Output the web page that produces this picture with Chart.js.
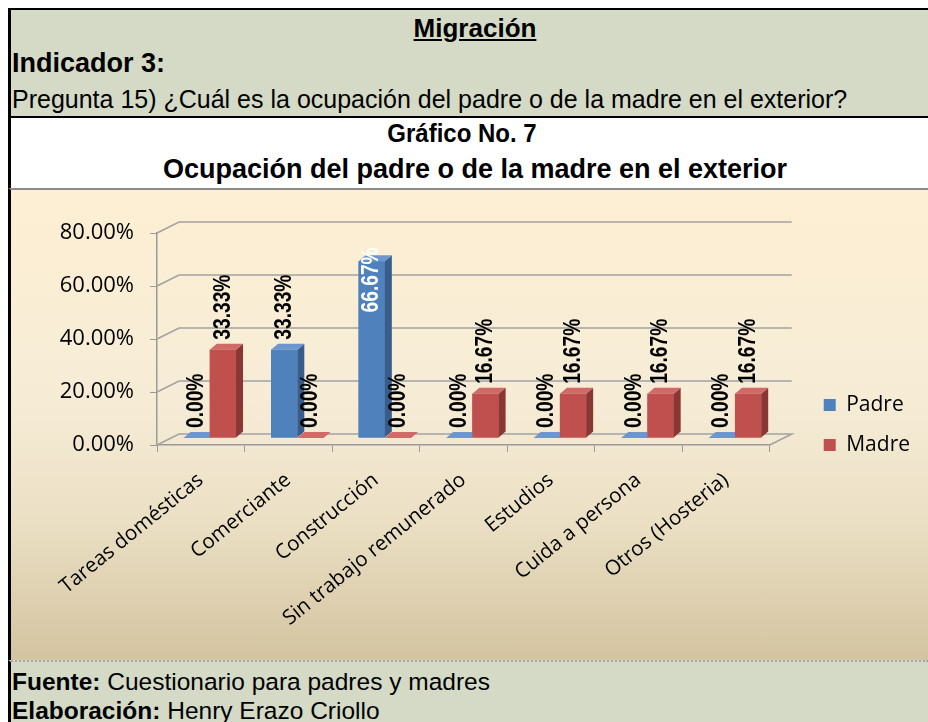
<!DOCTYPE html>
<html><head><meta charset="utf-8">
<script src="https://cdn.jsdelivr.net/npm/chart.js@4.4.1/dist/chart.umd.min.js"></script>
<style>
html,body{margin:0;padding:0;background:#fff;width:928px;height:722px;overflow:hidden;font-family:"Liberation Sans",Arial,sans-serif;color:#000}
.box{position:absolute;left:8px;width:920px;box-sizing:border-box;border-left:3px solid #000}
#hdr{top:8px;height:108px;background:#d4dac6;border-top:2px solid #000}
#sub{top:116px;height:73px;background:#fff;border-top:2px solid #000}
#chartbox{top:188px;height:474px;border-top:2px solid #8c8c8c;background:linear-gradient(to bottom,#fdefd3 0%,#f6ecd6 45%,#ebe0c4 70%,#d3c3a0 100%)}
#ftr{top:660px;height:62px;background:#d4dac6;border-top:2px dotted #a8a8a8}
.t{position:absolute;white-space:nowrap;line-height:1}
#cv{position:absolute;left:10px;top:190px}
</style></head>
<body>
<div id="hdr" class="box"></div>
<div id="sub" class="box"></div>
<div id="chartbox" class="box"></div>
<div id="ftr" class="box"></div>
<div class="t" style="left:475px;top:15px;font-size:26px;font-weight:bold;text-decoration:underline;transform:translateX(-50%)">Migración</div>
<div class="t" style="left:12px;top:50px;font-size:27px;font-weight:bold">Indicador 3:</div>
<div class="t" style="left:12px;top:87px;font-size:25px">Pregunta 15) ¿Cuál es la ocupación del padre o de la madre en el exterior?</div>
<div class="t" style="left:462px;top:121px;font-size:24px;font-weight:bold;transform:translateX(-50%) scaleY(1.08)">Gráfico No. 7</div>
<div class="t" style="left:475px;top:156px;font-size:27px;font-weight:bold;transform:translateX(-50%) scaleY(1.05)">Ocupación del padre o de la madre en el exterior</div>
<div class="t" style="left:12px;top:670px;font-size:24.5px"><b>Fuente:</b> Cuestionario para padres y madres</div>
<div class="t" style="left:12px;top:699px;font-size:24.5px"><b>Elaboración:</b> Henry Erazo Criollo</div>
<canvas id="cv" width="918" height="470"></canvas>
<script>
const categories = ['Tareas domésticas','Comerciante','Construcción','Sin trabajo remunerado','Estudios','Cuida a persona','Otros (Hosteria)'];
const seriesNames = ['Padre','Madre'];
const padre = [0, 33.33, 66.67, 0, 0, 0, 0];
const madre = [33.33, 0, 0, 16.67, 16.67, 16.67, 16.67];
const yTicks = [0, 20, 40, 60, 80];

const frontColors = ['#4f81bd','#c0504d'];
const sideColors = ['#385d8a','#8a3634'];
const topColors = ['#6d97cc','#cf6a67'];
const WALL = {dx:22, dy:-11};
const SHIFT = {dx:9, dy:-7};
const B3 = {dx:7, dy:-6};
const LABEL_SX = 0.8;

const fmt = v => Number(v).toFixed(2) + '%';

const scene3d = {
  id:'scene3d',
  beforeDatasetsDraw(chart){
    const {ctx, chartArea:a, scales:{y}} = chart;
    ctx.save();
    ctx.strokeStyle='#a3a3a3'; ctx.lineWidth=1.6;
    const y0 = y.getPixelForValue(0);
    ctx.beginPath();
    ctx.moveTo(a.left,y0); ctx.lineTo(a.left+WALL.dx,y0+WALL.dy);
    ctx.lineTo(a.right+WALL.dx,y0+WALL.dy); ctx.lineTo(a.right,y0);
    ctx.stroke();
    yTicks.forEach(v=>{
      if(v===0) return;
      const py=y.getPixelForValue(v);
      ctx.beginPath(); ctx.moveTo(a.left,py); ctx.lineTo(a.left+WALL.dx,py+WALL.dy);
      ctx.lineTo(a.right+WALL.dx,py+WALL.dy); ctx.stroke();
    });
    ctx.restore();
    ctx.save();
    ctx.translate(SHIFT.dx, SHIFT.dy);
  },
  afterDatasetsDraw(chart){
    const ctx = chart.ctx;
    const metas = [chart.getDatasetMeta(0), chart.getDatasetMeta(1)];
    const topLimit = chart.scales.y.getPixelForValue(80);
    for(let i=0;i<categories.length;i++){
      metas.forEach((m,k)=>{
        const el = m.data[i];
        el.draw(ctx);
        const {x,y,base,width} = el.getProps(['x','y','base','width'], true);
        const l = x-width/2, r = x+width/2;
        ctx.fillStyle = sideColors[k];
        ctx.beginPath(); ctx.moveTo(r,y); ctx.lineTo(r+B3.dx,y+B3.dy); ctx.lineTo(r+B3.dx,base+B3.dy); ctx.lineTo(r,base); ctx.closePath(); ctx.fill();
        ctx.fillStyle = topColors[k];
        ctx.beginPath(); ctx.moveTo(l,y); ctx.lineTo(l+B3.dx,y+B3.dy); ctx.lineTo(r+B3.dx,y+B3.dy); ctx.lineTo(r,y); ctx.closePath(); ctx.fill();
      });
    }
    ctx.font = 'bold 24px "Liberation Sans", Arial, sans-serif';
    ctx.textBaseline = 'middle'; ctx.textAlign = 'left';
    metas.forEach((m,k)=>{
      const data = chart.data.datasets[k].data;
      m.data.forEach((el,i)=>{
        const {x,y} = el.getProps(['x','y'], true);
        const txt = fmt(data[i]);
        const w = ctx.measureText(txt).width * LABEL_SX;
        let start = y - 10, color = '#000';
        if(start - w < topLimit - 5){ start = y - 14 + w; color = '#fff'; }
        ctx.save();
        ctx.translate(x, start); ctx.rotate(-Math.PI/2); ctx.scale(LABEL_SX,1);
        ctx.fillStyle = color; ctx.fillText(txt, 0, 0);
        ctx.restore();
      });
    });
    ctx.restore();
  }
};

new Chart(document.getElementById('cv'), {
  type:'bar',
  data:{
    labels: categories,
    datasets:[
      {label:seriesNames[0], data:padre, backgroundColor:frontColors[0], borderWidth:0, categoryPercentage:0.6, barPercentage:1},
      {label:seriesNames[1], data:madre, backgroundColor:frontColors[1], borderWidth:0, categoryPercentage:0.6, barPercentage:1}
    ]
  },
  options:{
    responsive:false, animation:false, devicePixelRatio:1,
    layout:{padding:{top:0,left:0,right:8,bottom:0}},
    plugins:{
      tooltip:{enabled:false},
      legend:{position:'right', labels:{font:{family:'Open Sans', size:21}, color:'#000', boxWidth:12, boxHeight:12, padding:19}}
    },
    scales:{
      x:{
        ticks:{font:{family:'Open Sans', size:20.5}, color:'#000', minRotation:39, maxRotation:39, padding:16, autoSkip:false},
        grid:{drawOnChartArea:false, tickLength:7, color:'#9a9a9a', offset:true},
        border:{color:'#9a9a9a', width:1.5},
        afterFit(s){ s.height = 215; }
      },
      y:{
        min:0, max:80,
        afterBuildTicks(s){ s.ticks = yTicks.map(v=>({value:v})); },
        ticks:{callback:v=>fmt(v), font:{family:'Open Sans', size:22}, color:'#000', padding:16},
        grid:{drawOnChartArea:false, tickLength:7, color:'#9a9a9a'},
        border:{color:'#9a9a9a', width:1.5},
        afterFit(s){ s.width = 147; }
      },
      gap:{
        type:'linear', position:'right', display:true,
        grid:{display:false}, border:{display:false}, ticks:{display:false},
        afterFit(s){ s.width = 35; }
      },
      gapTop:{
        type:'linear', position:'top', display:true,
        grid:{display:false}, border:{display:false}, ticks:{display:false},
        afterFit(s){ s.height = 43; }
      }
    }
  },
  plugins:[scene3d]
});
</script>
</body></html>
